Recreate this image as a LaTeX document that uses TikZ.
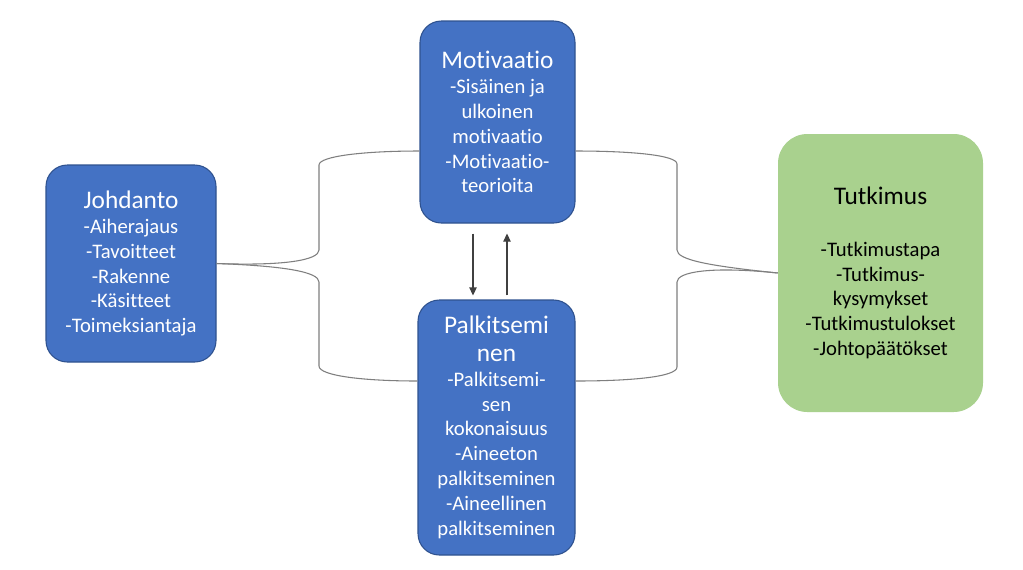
\documentclass[tikz,border=0pt]{standalone}
\usepackage{fontspec}
\setmainfont{Carlito}[Ligatures=NoCommon]
\usepackage{xcolor}
\usetikzlibrary{arrows.meta, calc}

\definecolor{boxblue}{HTML}{4472C4}
\definecolor{edgeblue}{HTML}{2F528F}
\definecolor{boxgreen}{HTML}{A9D18E}
\definecolor{linegray}{HTML}{7F7F7F}

\newcommand{\ttl}[1]{{\fontsize{19}{22}\selectfont #1}}

\tikzset{
  bluebox/.style={draw=edgeblue, line width=0.8pt, fill=boxblue, rounded corners=16pt,
    text=white, align=center, inner sep=0pt, font=\fontsize{15.5}{18.7}\selectfont},
  greenbox/.style={fill=boxgreen, rounded corners=22pt, text=black, align=center,
    inner sep=0pt, font=\fontsize{15.5}{18.7}\selectfont},
  brace/.style={draw=linegray, line width=0.8pt},
  arrow/.style={draw=black!75, line width=0.8pt, -{Triangle[length=6pt, width=5.5pt]}}
}

\begin{document}
\begin{tikzpicture}[x=0.75pt, y=-0.75pt]
    \fill[white] (0,0) rectangle (1023,569);
    \useasboundingbox (0,0) rectangle (1023,569);

    \node[bluebox, minimum width=127.5pt, minimum height=147.75pt] (johdanto) at (131,263.5)
        {\ttl{Johdanto}\\-Aiherajaus\\-Tavoitteet\\-Rakenne\\-Käsitteet\\-Toimeksiantaja};
    \node[bluebox, minimum width=116.25pt, minimum height=151.5pt] (motiv) at (497.5,122)
        {\ttl{Motivaatio}\\-Sisäinen ja\\ulkoinen\\motivaatio\\-Motivaatio-\\teorioita};
    \node[bluebox, minimum width=117.75pt, minimum height=191.25pt] (palk) at (496.5,427.5)
        {\ttl{Palkitsemi}\\[2pt]\ttl{nen}\\-Palkitsemi-\\sen\\kokonaisuus\\-Aineeton\\palkitseminen\\-Aineellinen\\palkitseminen};
    \node[greenbox, minimum width=153.75pt, minimum height=208.5pt] (tutk) at (880.5,273)
        {\ttl{Tutkimus}\\[20pt]-Tutkimustapa\\-Tutkimus-\\kysymykset\\-Tutkimustulokset\\-Johtopäätökset};

    % left brace
    \draw[brace] (johdanto.east) .. controls (285,266) and (319,260) .. (319,250)
        -- (319,165) .. controls (319,156) and (365,151) .. (motiv.west |- 0,151);
    \draw[brace] (johdanto.east) .. controls (285,266) and (319,272) .. (319,282)
        -- (319,366) .. controls (319,376) and (365,381) .. (palk.west |- 0,381);
    % right brace
    \draw[brace] (tutk.west) .. controls (710,266) and (677,260) .. (677,250)
        -- (677,164) .. controls (677,155) and (630,151) .. (motiv.east |- 0,151);
    \draw[brace] (tutk.west) .. controls (710,266) and (677,272) .. (677,282)
        -- (677,367) .. controls (677,377) and (630,381) .. (palk.east |- 0,381);

    \draw[arrow] ($(motiv.south)+(-24.5,10)$) -- ($(palk.north)+(-23.5,-4)$);
    \draw[arrow] ($(palk.north)+(10.5,-4)$) -- ($(motiv.south)+(9.5,10)$);
\end{tikzpicture}
\end{document}
